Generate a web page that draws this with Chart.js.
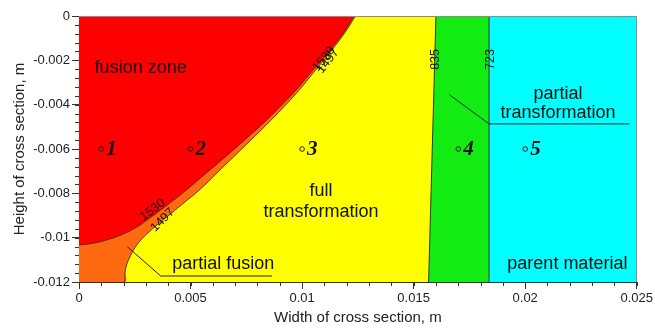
<!DOCTYPE html>
<html><head><meta charset="utf-8">
<script src="https://cdn.jsdelivr.net/npm/chart.js@4.4.1/dist/chart.umd.min.js"></script>
<style>html,body{margin:0;padding:0;background:#fff;}canvas{display:block;}</style>
</head><body>
<canvas id="c" width="655" height="329"></canvas>
<script>
// ---- data ----
const xRange = [0, 0.025];
const yRange = [-0.012, 0];
const xTickValues = [0, 0.005, 0.01, 0.015, 0.02, 0.025];
const xTickLabels = ['0', '0.005', '0.01', '0.015', '0.02', '0.025'];
const yTickValues = [-0.012, -0.01, -0.008, -0.006, -0.004, -0.002, 0];
const yTickLabels = ['-0.012', '-0.01', '-0.008', '-0.006', '-0.004', '-0.002', '0'];

// isotherm 1530 (fusion zone boundary)
const iso1530X = [0, 0.00058, 0.00125, 0.00188, 0.00259, 0.0033, 0.00402, 0.00487, 0.00571, 0.00656, 0.00737, 0.00817, 0.00895, 0.00973, 0.01049, 0.01125, 0.01188, 0.01232];
const iso1530Y = [-0.01033, -0.01026, -0.0101, -0.00988, -0.00952, -0.00902, -0.00848, -0.0078, -0.00708, -0.00636, -0.00564, -0.00492, -0.00415, -0.00334, -0.00244, -0.00153, -0.00072, 0];
// isotherm 1497 (partial fusion boundary)
const iso1497X = [0.00205, 0.00208, 0.00228, 0.00266, 0.00324, 0.00393, 0.00464, 0.00545, 0.00618, 0.00692, 0.00766, 0.00839, 0.00913, 0.00987, 0.0106, 0.01134, 0.01194, 0.01239];
const iso1497Y = [-0.012, -0.01146, -0.01087, -0.01024, -0.00965, -0.00907, -0.00848, -0.0078, -0.00708, -0.00636, -0.00564, -0.00492, -0.00415, -0.00334, -0.00244, -0.00153, -0.00072, 0];
// isotherms 835 and 723
const iso835X = [0.01567, 0.0160];
const iso835Y = [-0.012, 0];
const iso723X = [0.01838, 0.01838];
const iso723Y = [-0.012, 0];

// measuring points
const pointIds = ['1', '2', '3', '4', '5'];
const pointX = [0.001, 0.005, 0.010, 0.017, 0.020];
const pointY = [-0.006, -0.006, -0.006, -0.006, -0.006];

const zoneNames = ['fusion zone', 'partial fusion', 'full transformation', 'partial transformation', 'parent material'];

// ---- build ----
const toPts = (xs, ys) => xs.map((x, i) => ({x: x, y: ys[i]}));
const corner = {x: xRange[0], y: yRange[0]};

const regionDs = (pts, color, ten) => ({
  data: pts, backgroundColor: color, borderColor: 'rgba(0,0,0,0)', borderWidth: 0,
  pointRadius: 0, fill: 'end', tension: ten
});
const lineDs = (pts, color, w, ten) => ({
  data: pts, borderColor: color, borderWidth: w, pointRadius: 0, fill: false, tension: ten
});

const datasets = [
  {data: toPts(pointX, pointY), showLine: false, pointRadius: 2.3, pointBorderWidth: 1,
   pointBorderColor: '#222', pointBackgroundColor: 'rgba(0,0,0,0)', fill: false},
  lineDs(toPts(iso1530X, iso1530Y), '#5a2410', 0.9, 0.4),
  lineDs(toPts(iso1497X, iso1497Y), '#4a3010', 0.9, 0.4),
  lineDs(toPts(iso835X, iso835Y), '#333', 1, 0),
  lineDs(toPts(iso723X, iso723Y), '#333', 1, 0),
  regionDs(toPts(iso1530X, iso1530Y), '#ff0000', 0.4),
  regionDs([corner].concat(toPts(iso1497X, iso1497Y)), '#ff6a10', 0),
  regionDs([corner].concat(toPts(iso835X, iso835Y)), '#ffff00', 0),
  regionDs([corner, {x: iso723X[0], y: yRange[0]}], '#12ec12', 0),
  regionDs([corner, {x: xRange[1], y: yRange[0]}], '#00ffff', 0)
];
// the orange fill uses the smoothed 1497 line shape: separate tension per segment via the smoothed line dataset
datasets[6].tension = 0.4;

const annotations = {
  texts: [
    {t: zoneNames[0], x: 0.0007, y: -0.00233, a: 'left'},
    {t: 'full', x: 0.01085, y: -0.00789, a: 'center'},
    {t: 'transformation', x: 0.01085, y: -0.00883, a: 'center'},
    {t: 'partial', x: 0.02147, y: -0.00352, a: 'center'},
    {t: 'transformation', x: 0.02147, y: -0.00439, a: 'center'},
    {t: zoneNames[1], x: 0.00418, y: -0.0112, a: 'left'},
    {t: zoneNames[4], x: 0.0192, y: -0.0112, a: 'left'}
  ],
  leaders: [
    [[0.01661, -0.00356], [0.01839, -0.00487], [0.02467, -0.00487]],
    [[0.00217, -0.01041], [0.00366, -0.01173], [0.00865, -0.01173]]
  ],
  contourLabels: [
    {t: '835', x: 0.01597, y: -0.00196, r: -90},
    {t: '723', x: 0.01843, y: -0.00196, r: -90},
    {t: '1530', x: 0.0033, y: -0.00875, r: -37},
    {t: '1497', x: 0.00375, y: -0.0092, r: -45},
    {t: '1530', x: 0.01098, y: -0.00194, r: -52},
    {t: '1497', x: 0.01116, y: -0.00203, r: -52}
  ]
};

const annotPlugin = {
  id: 'annot',
  afterDraw(chart) {
    const {ctx, chartArea: a, scales: {x, y}} = chart;
    const px = v => x.getPixelForValue(v), py = v => y.getPixelForValue(v);
    ctx.save();
    // frame top / right
    ctx.strokeStyle = '#8c8c8c'; ctx.lineWidth = 1;
    ctx.beginPath();
    ctx.moveTo(a.left, Math.round(a.top) + 0.5);
    ctx.lineTo(Math.round(a.right) - 0.5, Math.round(a.top) + 0.5);
    ctx.lineTo(Math.round(a.right) - 0.5, a.bottom);
    ctx.stroke();
    // minor ticks
    ctx.strokeStyle = '#333';
    ctx.beginPath();
    for (let i = 0; i <= 25; i++) {
      const xx = Math.round(px(i * 0.001)) + 0.5;
      ctx.moveTo(xx, a.bottom); ctx.lineTo(xx, a.bottom + 4);
    }
    for (let i = 0; i <= 30; i++) {
      const yy = Math.round(py(-i * 0.0004)) + 0.5;
      ctx.moveTo(a.left, yy); ctx.lineTo(a.left - 4, yy);
    }
    ctx.stroke();
    // leader lines
    ctx.strokeStyle = '#222'; ctx.lineWidth = 1;
    annotations.leaders.forEach(l => {
      ctx.beginPath();
      l.forEach((p, i) => i ? ctx.lineTo(px(p[0]), py(p[1])) : ctx.moveTo(px(p[0]), py(p[1])));
      ctx.stroke();
    });
    // region texts
    ctx.fillStyle = '#111';
    ctx.font = '18px "Liberation Sans", Arial, sans-serif';
    ctx.textBaseline = 'middle';
    annotations.texts.forEach(t => {
      ctx.textAlign = t.a;
      ctx.fillText(t.t, px(t.x), py(t.y));
    });
    // contour labels
    ctx.font = '12.5px "Liberation Sans", Arial, sans-serif';
    ctx.textAlign = 'center';
    annotations.contourLabels.forEach(c => {
      ctx.save();
      ctx.translate(px(c.x), py(c.y));
      ctx.rotate(c.r * Math.PI / 180);
      ctx.fillText(c.t, 0, 0);
      ctx.restore();
    });
    // point ids
    ctx.font = 'italic bold 21px "Liberation Serif", "Times New Roman", serif';
    ctx.textAlign = 'left';
    pointIds.forEach((id, i) => {
      ctx.fillText(id, px(pointX[i]) + 5, py(pointY[i]) + 1);
    });
    ctx.restore();
  }
};

const tickFont = {family: 'Liberation Sans', size: 13};
const titleFont = {family: 'Liberation Sans', size: 15};

new Chart(document.getElementById('c'), {
  type: 'line',
  data: {datasets: datasets},
  options: {
    responsive: false,
    devicePixelRatio: 1,
    animation: false,
    events: [],
    layout: {padding: {top: 16, right: 17, left: 0, bottom: 0}},
    plugins: {legend: {display: false}, tooltip: {enabled: false}},
    scales: {
      x: {
        type: 'linear', min: xRange[0], max: xRange[1], position: 'bottom', z: 1,
        afterBuildTicks: s => { s.ticks = xTickValues.map(v => ({value: v})); },
        afterFit: s => { s.height = 47; },
        border: {display: true, color: '#333', width: 1},
        grid: {display: true, drawOnChartArea: false, drawTicks: true, tickLength: 7, tickColor: '#333', color: '#333'},
        ticks: {padding: 2, color: '#222', font: tickFont, maxRotation: 0, autoSkip: false,
                callback: (v, i) => xTickLabels[i]},
        title: {display: true, text: 'Width of cross section, m', color: '#222', font: titleFont,
                padding: {top: 0, bottom: 2}}
      },
      y: {
        type: 'linear', min: yRange[0], max: yRange[1], position: 'left', z: 1,
        afterBuildTicks: s => { s.ticks = yTickValues.map(v => ({value: v})); },
        afterFit: s => { s.width = 79; },
        border: {display: true, color: '#333', width: 1},
        grid: {display: true, drawOnChartArea: false, drawTicks: true, tickLength: 7, tickColor: '#333', color: '#333'},
        ticks: {padding: 2, color: '#222', font: tickFont, autoSkip: false,
                callback: (v, i) => yTickLabels[i]},
        title: {display: true, text: 'Height of cross section, m', color: '#222', font: titleFont,
                padding: {top: 11, bottom: 0}}
      }
    }
  },
  plugins: [annotPlugin]
});
</script>
</body></html>
